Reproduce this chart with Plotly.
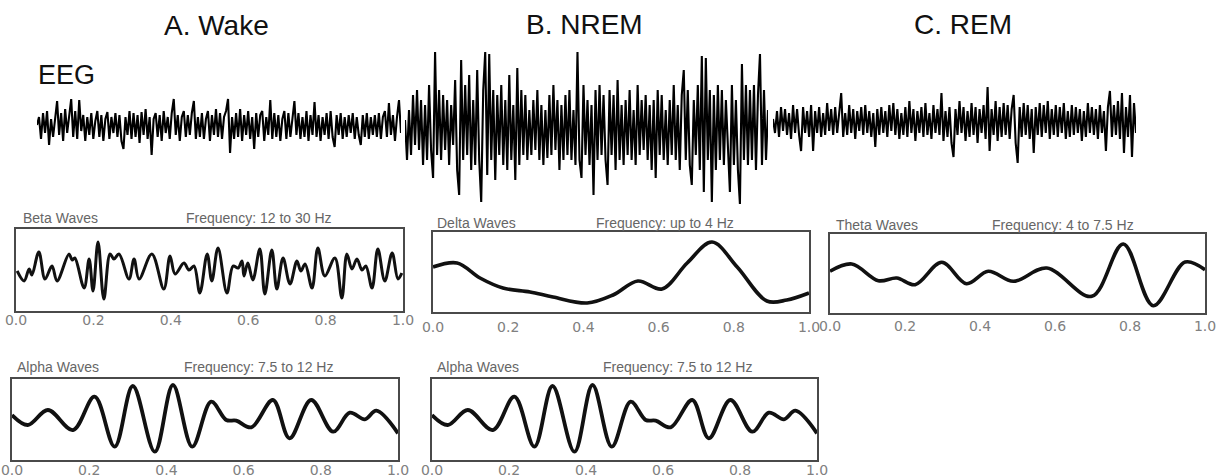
import plotly.graph_objects as go

W, H = 1221, 475

# ---------------- data ----------------
stage_titles = ["A. Wake", "B. NREM", "C. REM"]
eeg_label = "EEG"

eeg_wake = [2, 10, -12, 14, -6, 16, -18, 8, -10, 12,
            26, -8, 14, -14, 18, -6, 12, 28, -10, 16,
            -12, 27, -4, 12, -14, 10, -8, 14, -12, 6,
            16, -10, 12, -14, 8, 15, -12, 10, -6, 14,
            -10, 12, -14, -22, 10, -8, 16, -12, 14, -10,
            12, -16, 15, -8, 18, -12, 10, -28, 8, 14,
            -10, 12, -14, 16, -6, 10, -12, 14, 28, -8,
            12, -14, 10, 16, -10, 12, -8, 14, 26, -12,
            10, -10, 14, -12, 8, 16, -14, 12, -8, 18,
            -10, 14, -12, 10, 16, 28, -26, 10, -12, 14,
            -10, 18, -14, 12, -8, 16, -12, 10, -22, 14,
            -10, 12, 16, -14, 10, -8, 27, -12, 14, -10,
            12, -14, 8, 16, -12, 14, -10, 12, 26, -8,
            14, -12, 10, -10, 16, -14, 12, -8, 25, -10,
            12, -14, 10, -8, 14, -12, 16, -10, -20, 12,
            -8, 14, -12, 10, -10, 12, -6, 14, -12, 10,
            -8, -18, 12, -10, 14, -12, 10, -8, 12, -10,
            14, -12, 10, 16, -10, 24, -8, 12, -14, 10,
            27, -6]

eeg_nrem = [10, -30, 20, -25, 35, -15, 40, -20, 30, -35,
            25, -30, 45, -20, -48, 78, -25, 40, -30, 35,
            -20, 30, -35, 25, -15, 50, -40, -65, 70, -30,
            45, -25, 55, -40, 30, -35, 60, -30, -72, 40,
            78, -45, 76, -30, 40, -50, 35, -25, 45, -35,
            30, -40, 55, -30, 25, -50, 62, -35, 40, -25,
            35, -30, 20, -25, 30, -20, 40, -30, 25, -35,
            20, -28, 35, -25, 45, -20, 30, -40, 25, -30,
            35, -25, 40, -30, 20, -35, 78, -30, -48, 45,
            -25, 30, -35, 25, -65, 40, -30, 45, -25, 35,
            -30, -55, 40, -25, 35, -40, 50, -30, 25, -35,
            30, -25, 40, -30, 20, -35, 45, -25, 30, -20,
            35, -30, 25, -40, 30, -48, 40, -25, 35, -30,
            20, -35, 30, -25, 45, -30, 25, -40, 35, 60,
            -30, 40, -35, -55, 30, -25, 45, -40, 74, -62,
            72, -30, 40, -72, 35, -40, 45, -30, 40, -35,
            30, -25, -62, 45, -35, 30, -40, -74, 66, -30,
            45, -35, 40, -30, 45, -40, 35, 76, -35, 40,
            -30, 20]

eeg_rem = [4, -10, 12, -14, 16, -8, 14, -12, 10, -16,
           18, -10, 14, -12, -28, 16, -10, 12, -14, 18,
           -28, 12, -10, 16, -14, 10, -12, 20, -8, 14,
           -12, 16, -10, 12, 30, -14, 10, -12, 18, -10,
           14, -16, 12, -8, 16, -12, 18, -10, 12, -14,
           10, -24, 14, -12, 16, -10, 12, -14, 18, -8,
           20, -12, 14, -16, 10, -12, 16, -14, 22, -10,
           14, -18, 12, -10, 16, -14, 20, -12, 10, -16,
           18, -10, 14, -12, 30, -18, 12, -14, 16, -20,
           -34, 14, -12, 22, -10, 16, -18, 12, -14, 20,
           -12, 16, -20, 14, -10, 18, -16, 36, -28, 14,
           -12, 22, -18, 16, -14, 20, -12, 18, -16, 14,
           28, -20, -40, 16, -14, 20, -12, 18, -16, 14,
           -30, 16, -12, 20, -14, 18, -10, 22, -16, 14,
           -12, 18, -14, 16, -10, 20, -16, 12, -14, 18,
           -12, 16, -10, 14, -18, 12, -14, 20, -10, 16,
           -12, 14, -16, 18, -10, 12, -28, 16, 32, -14,
           18, -12, 22, -16, 30, -30, 16, -14, 28, -34,
           20, -10]

beta_t = [0.003, 0.021, 0.034, 0.041, 0.059, 0.075, 0.093, 0.106, 0.137, 0.145,
          0.152, 0.176, 0.189, 0.199, 0.212, 0.227, 0.243, 0.253, 0.266, 0.292,
          0.305, 0.318, 0.351, 0.382, 0.398, 0.411, 0.434, 0.447, 0.460, 0.475,
          0.494, 0.506, 0.522, 0.545, 0.561, 0.574, 0.584, 0.589, 0.599, 0.612,
          0.630, 0.643, 0.661, 0.674, 0.690, 0.708, 0.726, 0.736, 0.747, 0.765,
          0.780, 0.798, 0.824, 0.842, 0.855, 0.868, 0.881, 0.894, 0.904, 0.920,
          0.935, 0.953, 0.972, 0.987, 0.997]
beta_v = [40, 30, 42, 36, 59, 32, 45, 30, 57, 51,
          53, 23, 52, 20, 69, 12, 57, 52, 57, 32,
          52, 32, 57, 22, 55, 37, 48, 41, 45, 18,
          57, 30, 63, 18, 45, 43, 50, 35, 48, 31,
          62, 17, 61, 22, 53, 27, 50, 40, 47, 23,
          63, 35, 53, 13, 57, 42, 52, 41, 45, 23,
          62, 30, 58, 32, 38]

delta_t = [0.0, 0.064, 0.125, 0.186, 0.258, 0.319, 0.41, 0.479, 0.545, 0.609,
           0.676, 0.742, 0.809, 0.888, 0.941, 1.0]
delta_v = [45, 49, 34, 24, 20, 15, 9, 17, 31, 23,
           49, 70, 45, 11, 12, 19]

theta_t = [0.0, 0.058, 0.129, 0.178, 0.227, 0.298, 0.364, 0.422, 0.489, 0.578,
           0.698, 0.782, 0.862, 0.947, 1.0]
theta_v = [41.7, 49, 32.3, 35, 28.3, 50.7, 29.3, 41.7, 31.7, 45,
           16.7, 69, 7.3, 51, 43.3]

alpha_t = [0.0, 0.041, 0.093, 0.158, 0.214, 0.266, 0.313, 0.370, 0.417, 0.467,
           0.516, 0.555, 0.581, 0.620, 0.676, 0.719, 0.775, 0.832, 0.875, 0.914,
           0.944, 1.0]
alpha_v = [45, 35, 50, 30, 63.3, 13.3, 74, 8.3, 75, 13.3,
           58.3, 40, 39.3, 32.7, 60, 21.7, 60, 28.3, 47.3, 40.7,
           49.3, 26.7]

panel_names = ["Beta Waves", "Delta Waves", "Theta Waves", "Alpha Waves", "Alpha Waves"]
panel_freqs = ["Frequency: 12 to 30 Hz", "Frequency: up to 4 Hz", "Frequency: 4 to 7.5 Hz",
               "Frequency: 7.5 to 12 Hz", "Frequency: 7.5 to 12 Hz"]
tick_vals = [0.0, 0.2, 0.4, 0.6, 0.8, 1.0]
tick_text = ["0.0", "0.2", "0.4", "0.6", "0.8", "1.0"]

# ---------------- layout helpers ----------------
def xd(a, b):
    return [a / W, b / W]

def yd(top, bottom):
    return [1 - bottom / H, 1 - top / H]

fig = go.Figure()
layout = dict(width=W, height=H, autosize=False,
              margin=dict(l=0, r=0, t=0, b=0, pad=0, autoexpand=False),
              paper_bgcolor="white", plot_bgcolor="white", showlegend=False)

TITLE_FONT = "Liberation Sans, Arial, Helvetica, sans-serif"
SMALL_FONT = "Liberation Sans, Arial, sans-serif"
TICK_FONT = "DejaVu Sans, Verdana, sans-serif"

# EEG traces
eeg_specs = [
    (eeg_wake, (37, 401), (87, 167), 40),
    (eeg_nrem, (405, 768), (40, 220), 90),
    (eeg_rem, (773, 1136), (73, 173), 50),
]
axn = 1
for vals, (xa, xb), (yt, yb), half in eeg_specs:
    sfx = "" if axn == 1 else str(axn)
    fig.add_trace(go.Scatter(x=list(range(len(vals))), y=vals, mode="lines",
                             line=dict(color="black", width=2.1),
                             xaxis="x" + sfx, yaxis="y" + sfx, hoverinfo="skip"))
    layout["xaxis" + sfx] = dict(domain=xd(xa, xb), range=[0, len(vals) - 1],
                                 visible=False, anchor="y" + sfx, automargin=False)
    layout["yaxis" + sfx] = dict(domain=yd(yt, yb), range=[-half, half],
                                 visible=False, anchor="x" + sfx, automargin=False)
    axn += 1

# wave panels: (t, v, x-span, y-span, y-height, line width, header y, name x, freq x, label standoff)
panel_specs = [
    (beta_t, beta_v, (16, 403), (229, 311), 82, 3.0, 218, 21, 259, -5),
    (delta_t, delta_v, (433, 809), (232, 312), 80, 3.6, 223, 435, 665, 1),
    (theta_t, theta_v, (830, 1205), (234, 313), 79, 3.6, 225, 834, 1063, -1),
    (alpha_t, alpha_v, (12, 398), (379, 460), 81, 3.8, 367, 15, 258, -4),
    (alpha_t, alpha_v, (432, 817), (379, 460), 81, 3.8, 367, 435, 677, -4),
]
annotations = []
for k, (tx, vy, (xa, xb), (yt, yb), hgt, lw, hy, nx, fx, so) in enumerate(panel_specs):
    sfx = str(axn)
    fig.add_trace(go.Scatter(x=tx, y=vy, mode="lines",
                             line=dict(color="#111111", width=lw, shape="spline", smoothing=1.0),
                             xaxis="x" + sfx, yaxis="y" + sfx, hoverinfo="skip"))
    layout["xaxis" + sfx] = dict(domain=xd(xa, xb), range=[0, 1], anchor="y" + sfx,
                                 showline=True, mirror=True, linecolor="#4a4a4a", linewidth=1.6,
                                 showgrid=False, zeroline=False, ticks="",
                                 tickvals=tick_vals, ticktext=tick_text,
                                 ticklabelstandoff=so, automargin=False,
                                 tickfont=dict(family=TICK_FONT, size=14, color="#808080"))
    layout["yaxis" + sfx] = dict(domain=yd(yt, yb), range=[0, hgt], anchor="x" + sfx,
                                 showline=True, mirror=True, linecolor="#4a4a4a", linewidth=1.6,
                                 showgrid=False, zeroline=False, showticklabels=False, ticks="",
                                 automargin=False)
    annotations.append(dict(x=nx / W, y=1 - hy / H, xref="paper", yref="paper",
                            text=panel_names[k], showarrow=False, xanchor="left", yanchor="middle",
                            font=dict(family=SMALL_FONT, size=14, color="#666666")))
    annotations.append(dict(x=fx / W, y=1 - hy / H, xref="paper", yref="paper",
                            text=panel_freqs[k], showarrow=False, xanchor="center", yanchor="middle",
                            font=dict(family=SMALL_FONT, size=14, color="#666666")))
    axn += 1

title_pos = [(216, 25.5), (584.5, 25), (962.5, 25)]
for t, (cx, cy) in zip(stage_titles, title_pos):
    annotations.append(dict(x=cx / W, y=1 - cy / H, xref="paper", yref="paper", text=t,
                            showarrow=False, xanchor="center", yanchor="middle",
                            font=dict(family=TITLE_FONT, size=28, color="#111111")))
annotations.append(dict(x=36 / W, y=1 - 74.5 / H, xref="paper", yref="paper", text=eeg_label,
                        showarrow=False, xanchor="left", yanchor="middle",
                        font=dict(family=TITLE_FONT, size=27, color="#111111")))

layout["annotations"] = annotations
fig.update_layout(**layout)
fig.write_html("out.html", config={"displayModeBar": False},
               post_script="document.body.style.margin='0px';"
                           "document.documentElement.style.overflow='hidden';")
